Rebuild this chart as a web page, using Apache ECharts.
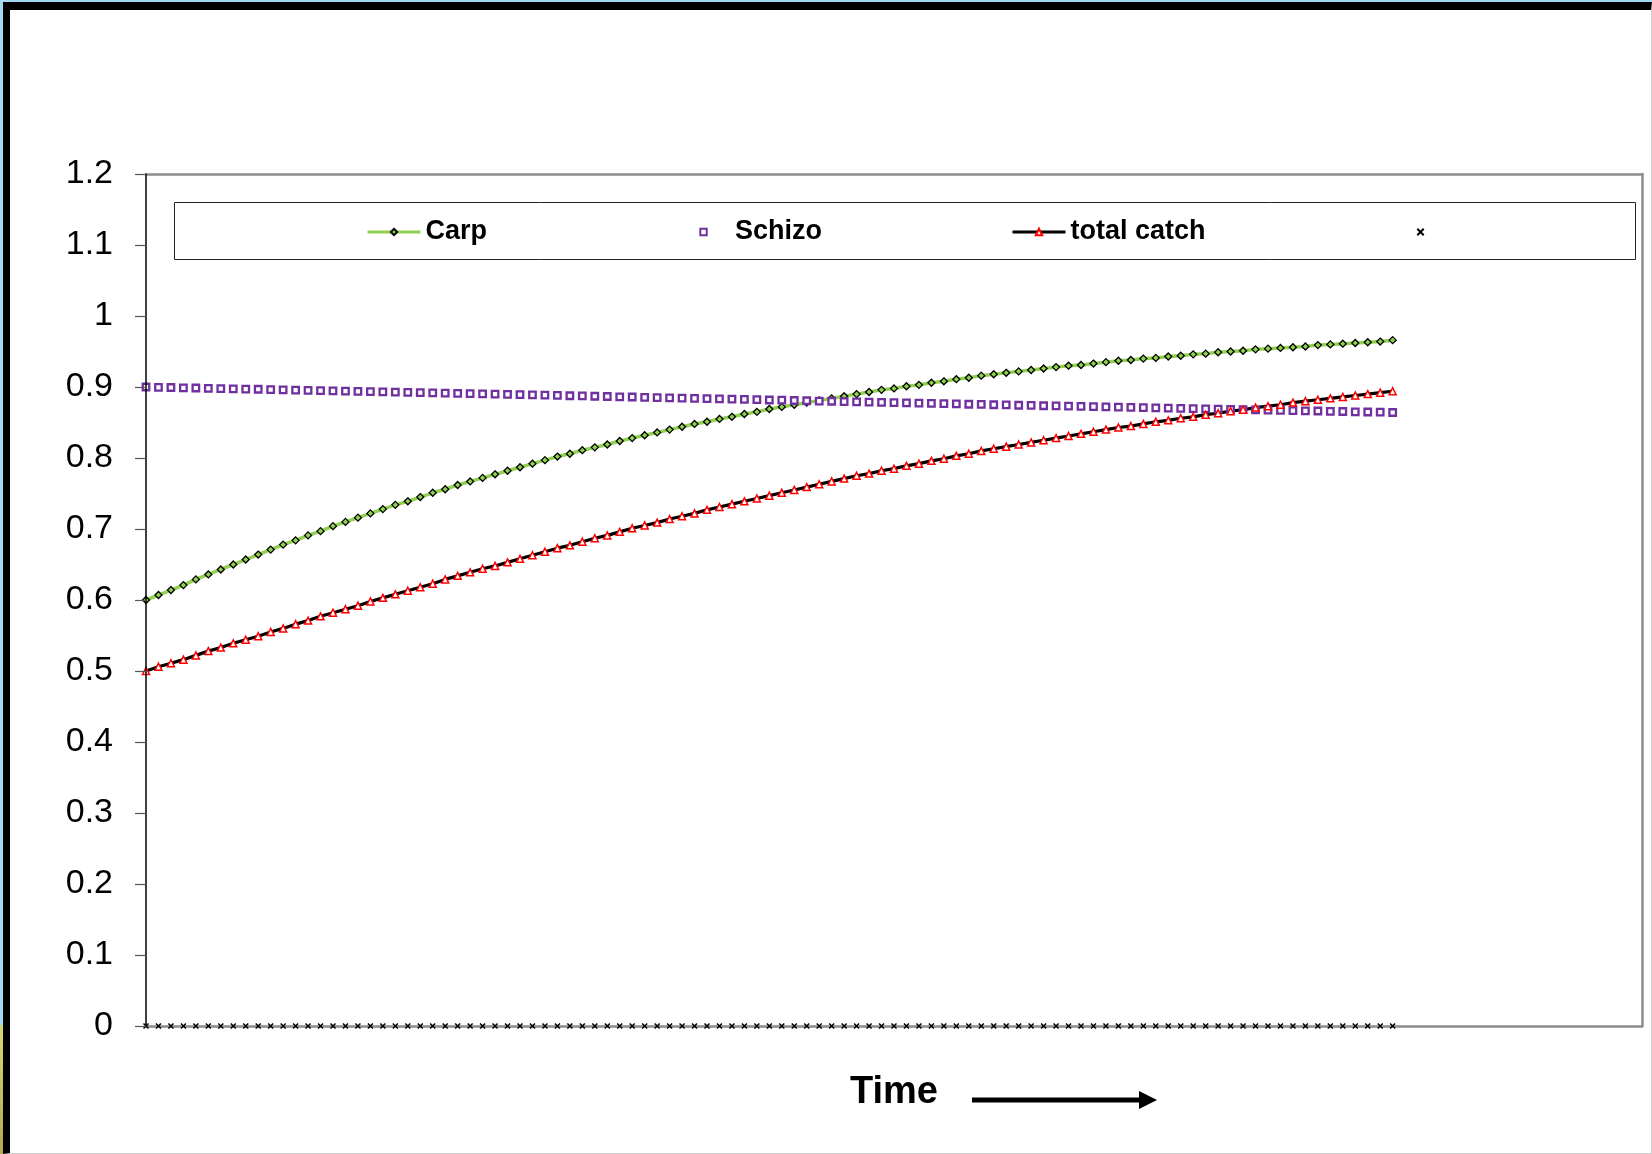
<!DOCTYPE html>
<html>
<head>
<meta charset="utf-8">
<title>Carp, Schizo and total catch over time</title>
<script src="https://cdn.jsdelivr.net/npm/echarts@6/dist/echarts.min.js"></script>
<style>
  html, body { margin: 0; padding: 0; width: 1652px; height: 1154px; overflow: hidden; background: #a3d8f1; }
  #frame {
    position: absolute; left: 3px; top: 2px; width: 1641px; height: 1143px;
    border-left: 7px solid #000; border-top: 8px solid #000;
    border-right: 1px solid #cfcfcf; border-bottom: 1px solid #cfcfcf;
    background: #fff;
  }
  #edge { position: absolute; left: 0; top: 1025px; width: 3px; height: 129px;
    background: linear-gradient(#d8d872, #b2a84c); }
  #chart { position: absolute; left: 0; top: 0; width: 1652px; height: 1154px; }
</style>
</head>
<body>
<div id="frame"></div>
<div id="edge"></div>
<div id="chart"></div>
<script>
// Time steps along the horizontal axis (the axis runs past the last simulated step)
const timeSteps = Array.from({ length: 121 }, (_, i) => i);

const yTickLabels = ['0', '0.1', '0.2', '0.3', '0.4', '0.5', '0.6', '0.7', '0.8', '0.9', '1', '1.1', '1.2'];

const carp = [
  0.600, 0.607, 0.614, 0.621, 0.629, 0.636, 0.643, 0.650, 0.657, 0.664,
  0.671, 0.678, 0.684, 0.691, 0.697, 0.704, 0.710, 0.716, 0.722, 0.728,
  0.734, 0.739, 0.745, 0.751, 0.756, 0.762, 0.767, 0.772, 0.777, 0.782,
  0.787, 0.792, 0.797, 0.802, 0.806, 0.811, 0.815, 0.819, 0.824, 0.828,
  0.832, 0.836, 0.840, 0.844, 0.848, 0.851, 0.855, 0.858, 0.862, 0.865,
  0.869, 0.872, 0.875, 0.878, 0.881, 0.884, 0.887, 0.890, 0.893, 0.896,
  0.898, 0.901, 0.903, 0.906, 0.908, 0.911, 0.913, 0.916, 0.918, 0.920,
  0.922, 0.924, 0.926, 0.928, 0.930, 0.931, 0.933, 0.935, 0.937, 0.938,
  0.940, 0.941, 0.943, 0.944, 0.946, 0.947, 0.949, 0.950, 0.951, 0.953,
  0.954, 0.955, 0.956, 0.957, 0.959, 0.960, 0.961, 0.962, 0.963, 0.964,
  0.966
];

const schizo = [
  0.9000, 0.8996, 0.8993, 0.8989, 0.8986, 0.8982, 0.8978, 0.8975, 0.8971, 0.8968,
  0.8964, 0.8960, 0.8957, 0.8953, 0.8950, 0.8946, 0.8942, 0.8939, 0.8935, 0.8932,
  0.8928, 0.8924, 0.8921, 0.8917, 0.8914, 0.8910, 0.8906, 0.8903, 0.8899, 0.8896,
  0.8892, 0.8888, 0.8885, 0.8881, 0.8877, 0.8874, 0.8870, 0.8866, 0.8862, 0.8859,
  0.8855, 0.8851, 0.8847, 0.8844, 0.8840, 0.8836, 0.8832, 0.8829, 0.8825, 0.8821,
  0.8817, 0.8814, 0.8810, 0.8806, 0.8802, 0.8799, 0.8795, 0.8791, 0.8787, 0.8784,
  0.8780, 0.8776, 0.8772, 0.8769, 0.8765, 0.8761, 0.8757, 0.8754, 0.8750, 0.8747,
  0.8743, 0.8740, 0.8736, 0.8733, 0.8730, 0.8726, 0.8723, 0.8719, 0.8716, 0.8713,
  0.8709, 0.8706, 0.8702, 0.8699, 0.8696, 0.8692, 0.8689, 0.8685, 0.8682, 0.8679,
  0.8675, 0.8672, 0.8668, 0.8665, 0.8662, 0.8658, 0.8655, 0.8651, 0.8648, 0.8645,
  0.8641
];

const totalCatch = [
  0.500, 0.506, 0.511, 0.516, 0.522, 0.528, 0.533, 0.539, 0.544, 0.549,
  0.555, 0.560, 0.566, 0.571, 0.577, 0.582, 0.587, 0.592, 0.598, 0.603,
  0.608, 0.613, 0.618, 0.623, 0.629, 0.634, 0.639, 0.644, 0.648, 0.653,
  0.658, 0.663, 0.668, 0.673, 0.677, 0.682, 0.687, 0.691, 0.696, 0.701,
  0.705, 0.709, 0.714, 0.718, 0.722, 0.727, 0.731, 0.735, 0.739, 0.743,
  0.747, 0.751, 0.755, 0.759, 0.763, 0.767, 0.771, 0.775, 0.778, 0.782,
  0.785, 0.789, 0.792, 0.796, 0.799, 0.803, 0.806, 0.810, 0.813, 0.816,
  0.819, 0.822, 0.825, 0.828, 0.831, 0.834, 0.837, 0.840, 0.843, 0.845,
  0.848, 0.851, 0.853, 0.856, 0.858, 0.861, 0.863, 0.866, 0.868, 0.871,
  0.873, 0.875, 0.878, 0.880, 0.882, 0.884, 0.886, 0.888, 0.890, 0.892,
  0.894
];

const unnamedSeries = [
  0, 0, 0, 0, 0, 0, 0, 0, 0, 0,
  0, 0, 0, 0, 0, 0, 0, 0, 0, 0,
  0, 0, 0, 0, 0, 0, 0, 0, 0, 0,
  0, 0, 0, 0, 0, 0, 0, 0, 0, 0,
  0, 0, 0, 0, 0, 0, 0, 0, 0, 0,
  0, 0, 0, 0, 0, 0, 0, 0, 0, 0,
  0, 0, 0, 0, 0, 0, 0, 0, 0, 0,
  0, 0, 0, 0, 0, 0, 0, 0, 0, 0,
  0, 0, 0, 0, 0, 0, 0, 0, 0, 0,
  0, 0, 0, 0, 0, 0, 0, 0, 0, 0,
  0
];

const CROSS = 'path://M0,0L10,10M10,0L0,10';
const FONT = '"Liberation Sans", Arial, sans-serif';
const BORDER_GRAY = '#8c8c8c';

function legendFor(name, left, extra) {
  return Object.assign({
    data: [name],
    left: left,
    top: 217,
    padding: 0,
    itemWidth: 53,
    itemHeight: 8,
    selectedMode: false,
    textStyle: {
      color: '#000', fontFamily: FONT, fontWeight: 'bold',
      fontSize: 27, lineHeight: 30, padding: [0, 0, 0, 0]
    }
  }, extra || {});
}

const chart = echarts.init(document.getElementById('chart'), null, { renderer: 'canvas' });

chart.setOption({
  animation: false,
  backgroundColor: 'transparent',
  grid: { left: 146, right: 10, top: 174, bottom: 128, containLabel: false },
  legend: [
    legendFor('Carp', 366, { lineStyle: { width: 3, color: '#92d050' } }),
    legendFor('Schizo', 676, { lineStyle: { opacity: 0 } }),
    legendFor('total catch', 1011, { lineStyle: { width: 3, color: '#000' } }),
    legendFor(' ', 1393, { lineStyle: { opacity: 0 } })
  ],
  xAxis: [
    {
      type: 'category',
      data: timeSteps,
      boundaryGap: false,
      name: 'Time',
      nameLocation: 'middle',
      nameGap: 67,
      nameTextStyle: {
        color: '#000', fontFamily: FONT, fontWeight: 'bold', fontSize: 38,
        verticalAlign: 'middle'
      },
      axisLine: { show: true, lineStyle: { color: BORDER_GRAY, width: 2.5 } },
      axisTick: { show: false },
      axisLabel: { show: false },
      splitLine: { show: false }
    },
    {
      type: 'value', position: 'top', min: 0, max: 1,
      axisLine: { show: true, onZero: false, lineStyle: { color: BORDER_GRAY, width: 2.5 } },
      axisTick: { show: false }, axisLabel: { show: false }, splitLine: { show: false }
    }
  ],
  yAxis: [
    {
      type: 'value',
      min: 0, max: 1.2, interval: 0.1,
      z: 5,
      axisLine: { show: true, lineStyle: { color: '#000', width: 1.5 } },
      axisTick: { show: true, inside: false, length: 11, lineStyle: { color: '#555', width: 1.2 } },
      axisLabel: {
        margin: 33, color: '#000', fontFamily: FONT, fontSize: 34,
        formatter: (v, i) => yTickLabels[i]
      },
      splitLine: { show: false }
    },
    {
      type: 'value', position: 'right', min: 0, max: 1,
      axisLine: { show: true, onZero: false, lineStyle: { color: BORDER_GRAY, width: 2.5 } },
      axisTick: { show: false }, axisLabel: { show: false }, splitLine: { show: false }
    }
  ],
  series: [
    {
      name: 'Carp', type: 'line', data: carp,
      showAllSymbol: true, symbol: 'diamond', symbolSize: 7,
      lineStyle: { color: '#92d050', width: 3.5 },
      itemStyle: { color: '#92d050', borderColor: '#000', borderWidth: 1.3 },
      emphasis: { disabled: true }
    },
    {
      name: 'Schizo', type: 'line', data: schizo,
      showAllSymbol: true, symbol: 'rect', symbolSize: 6.5,
      lineStyle: { opacity: 0 },
      itemStyle: { color: '#fff', borderColor: '#7030a0', borderWidth: 2.3 },
      emphasis: { disabled: true }
    },
    {
      name: 'total catch', type: 'line', data: totalCatch,
      showAllSymbol: true, symbol: 'triangle', symbolSize: 7,
      lineStyle: { color: '#000', width: 3.2 },
      itemStyle: { color: '#fff', borderColor: '#ff0000', borderWidth: 1.5 },
      emphasis: { disabled: true }
    },
    {
      name: ' ', type: 'line', data: unnamedSeries,
      showAllSymbol: true, symbol: CROSS, symbolSize: 5,
      lineStyle: { opacity: 0 },
      itemStyle: { color: 'rgba(0,0,0,0)', borderColor: '#000', borderWidth: 1.5 },
      emphasis: { disabled: true }
    }
  ],
  graphic: [
    // legend frame
    {
      type: 'rect', left: 174, top: 202, z: -1,
      shape: { width: 1461, height: 57 },
      style: { fill: 'transparent', stroke: '#222', lineWidth: 1 }
    },
    // direction arrow next to the time label
    {
      type: 'group', left: 972, top: 1091,
      children: [
        { type: 'rect', shape: { x: 0, y: 6.5, width: 170, height: 5 }, style: { fill: '#000' } },
        { type: 'polygon', shape: { points: [[167, 0], [185, 9], [167, 18]] }, style: { fill: '#000' } }
      ]
    }
  ]
});
</script>
</body>
</html>
